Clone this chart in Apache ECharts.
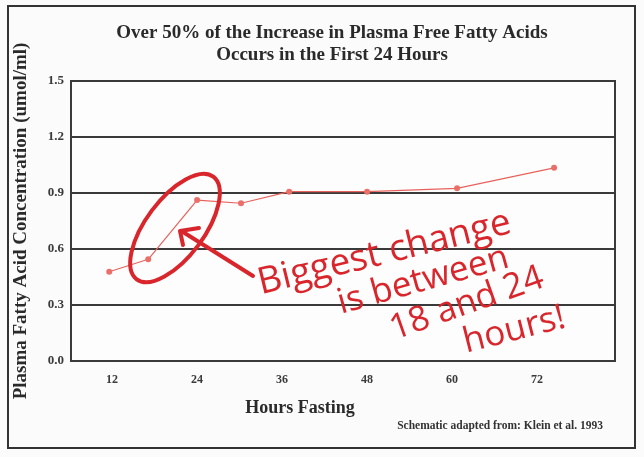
<!DOCTYPE html>
<html>
<head>
<meta charset="utf-8">
<script src="https://cdn.jsdelivr.net/npm/echarts@6/dist/echarts.min.js"></script>
<style>
html,body{margin:0;padding:0;background:#fbfbfb;}
#c{width:644px;height:457px;}
</style>
</head>
<body>
<div id="c"></div>
<script>
// ---- data ----
const hoursFasting = [11.6, 17.1, 24.0, 30.2, 37.0, 48.0, 60.7, 74.4];
const ffaConcentration = [0.478, 0.545, 0.862, 0.845, 0.907, 0.907, 0.925, 1.035];
const xTickLabels = [12, 24, 36, 48, 60, 72];
const yTicks = [0.0, 0.3, 0.6, 0.9, 1.2, 1.5];
const titleLines = ['Over 50% of the Increase in Plasma Free Fatty Acids', 'Occurs in the First 24 Hours'];
const annotationLines = ['Biggest change', 'is between', '18 and 24', 'hours!'];

const serif = '"Liberation Serif", "DejaVu Serif", serif';
const hand = '"Open Sans", "DejaVu Sans", sans-serif';
const red = '#d9262c';

const chart = echarts.init(document.getElementById('c'), null, {renderer: 'canvas'});
const points = hoursFasting.map((h, i) => [h, ffaConcentration[i]]);

chart.setOption({
  backgroundColor: '#fbfbfb',
  animation: false,
  title: {
    text: titleLines.join('\n'),
    left: 327,
    textAlign: 'center',
    top: 17,
    padding: 5,
    textStyle: {fontFamily: serif, fontWeight: 'bold', fontSize: 19, color: '#2a2a2a', lineHeight: 22}
  },
  grid: {left: 71, right: 29, top: 81, bottom: 96, outerBoundsMode: 'none', containLabel: false,
    show: true, borderColor: '#3a3a3a', borderWidth: 2, backgroundColor: '#fdfdfd'},
  xAxis: {
    type: 'value', min: 6.2, max: 83,
    name: 'Hours Fasting', nameLocation: 'middle', nameGap: 38,
    nameTextStyle: {fontFamily: serif, fontWeight: 'bold', fontSize: 18, color: '#2a2a2a', padding: [0, 86, 0, 0]},
    axisLine: {show: true, lineStyle: {color: '#3a3a3a', width: 2}},
    axisTick: {show: false},
    splitLine: {show: false},
    axisLabel: {customValues: xTickLabels, fontFamily: serif, fontWeight: 'bold', fontSize: 12, color: '#3a3a3a', margin: 13}
  },
  yAxis: {
    type: 'value', min: 0, max: 1.5, interval: 0.3,
    name: 'Plasma Fatty Acid Concentration (umol/ml)', nameLocation: 'middle', nameGap: 40, nameRotate: 90,
    nameTextStyle: {fontFamily: serif, fontWeight: 'bold', fontSize: 19, color: '#2a2a2a'},
    axisLine: {show: true, lineStyle: {color: '#3a3a3a', width: 2}},
    axisTick: {show: false},
    splitLine: {show: true, lineStyle: {color: '#3a3a3a', width: 2}},
    axisLabel: {fontFamily: serif, fontWeight: 'bold', fontSize: 13, color: '#3a3a3a', margin: 7,
      formatter: v => yTicks.find(t => Math.abs(t - v) < 1e-9) !== undefined ? v.toFixed(1) : ''}
  },
  series: [{
    type: 'line', data: points,
    lineStyle: {color: '#e8625c', width: 1.2},
    itemStyle: {color: '#ea6f69'},
    symbol: 'circle', symbolSize: 6, showSymbol: true, z: 3
  }],
  graphic: [
    {type: 'rect', shape: {x: 8, y: 6, width: 627, height: 442}, style: {fill: 'none', stroke: '#333', lineWidth: 2}, silent: true},
    {type: 'text', x: 603, y: 432, style: {text: 'Schematic adapted from: Klein et al. 1993', font: 'bold 11.5px ' + serif, fill: '#333', textAlign: 'right', textVerticalAlign: 'bottom'}},
    // hand-drawn circle
    {type: 'ellipse', x: 175, y: 228, rotation: 0.93, shape: {cx: 0, cy: 0, rx: 64, ry: 29}, style: {fill: 'none', stroke: red, lineWidth: 4}, z: 10},
    // arrow
    {type: 'polyline', shape: {points: [[253, 276], [183, 232]]}, style: {stroke: red, lineWidth: 4, lineCap: 'round'}, z: 10},
    {type: 'polyline', shape: {points: [[183, 245], [180, 231], [199, 228]]}, style: {fill: 'none', stroke: red, lineWidth: 4, lineCap: 'round', lineJoin: 'round'}, z: 10},
    {type: 'text', x: 263, y: 302, rotation: 0.24, style: {text: annotationLines[0], font: '37px ' + hand, fill: red, textAlign: 'left', textVerticalAlign: 'bottom'}, z: 10},
    {type: 'text', x: 343, y: 321, rotation: 0.27, style: {text: annotationLines[1], font: '35px ' + hand, fill: red, textAlign: 'left', textVerticalAlign: 'bottom'}, z: 10},
    {type: 'text', x: 397, y: 347, rotation: 0.34, style: {text: annotationLines[2], font: '35px ' + hand, fill: red, textAlign: 'left', textVerticalAlign: 'bottom'}, z: 10},
    {type: 'text', x: 468, y: 360, rotation: 0.25, style: {text: annotationLines[3], font: '35px ' + hand, fill: red, textAlign: 'left', textVerticalAlign: 'bottom'}, z: 10}
  ]
});
</script>
</body>
</html>
